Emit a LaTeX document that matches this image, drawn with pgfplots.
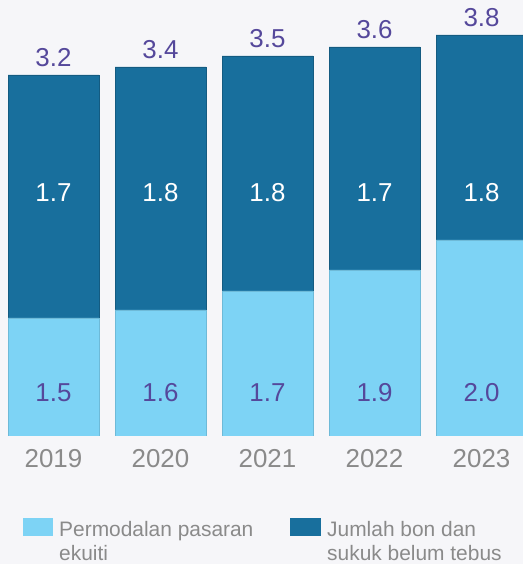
\documentclass[border=0pt]{standalone}
\usepackage{fontspec}
\setmainfont{Liberation Sans}
\usepackage{pgfplots}
\usepackage{pgfplotstable}
\pgfplotsset{compat=1.18}
\definecolor{lightb}{HTML}{7DD3F5}
\definecolor{darkb}{HTML}{186F9D}
\definecolor{purp}{HTML}{55489B}
\definecolor{yeargray}{HTML}{8A8A8A}
\definecolor{bg}{HTML}{F6F6F9}
\tikzset{lab/.style={anchor=center, inner sep=0pt, font=\fontsize{26}{30}\selectfont},
         toplab/.style={anchor=base, inner sep=0pt, text=purp, font=\fontsize{26}{30}\selectfont}}
% x = bar centre, eqh / bondh = drawn segment heights (chart is not to scale), eq/bond/total = printed values
\pgfplotstableread{
x     year eqh bondh eq  bond total
53.5  2019 118 243   1.5 1.7  3.2
160.5 2020 126 243   1.6 1.8  3.4
267.5 2021 145 235   1.7 1.8  3.5
374.5 2022 166 223   1.9 1.7  3.6
481.5 2023 196 205   2.0 1.8  3.8
}\data
\begin{document}
\begin{tikzpicture}
\path[use as bounding box, fill=bg] (0,-128bp) rectangle (523bp,436bp);
\begin{axis}[
  at={(0,0)}, anchor=south west,
  scale only axis, width=523bp, height=436bp,
  xmin=0, xmax=523, ymin=0, ymax=436,
  ybar stacked, bar width=91,
  axis line style={draw=none}, tick style={draw=none},
  ytick=\empty,
  xtick={53.5,160.5,267.5,374.5,481.5},
  xticklabels={2019,2020,2021,2022,2023},
  xticklabel style={font=\fontsize{26}{30}\selectfont, text=yeargray, anchor=base, inner sep=0pt, yshift=-31bp},
]
\addplot[fill=lightb, draw=lightb!88!black, line width=0.8bp] table[x=x,y=eqh]{\data};
\addplot[fill=darkb, draw=darkb!82!black, line width=0.8bp] table[x=x,y=bondh]{\data};
\end{axis}
\begin{axis}[
  at={(0,0)}, anchor=south west,
  scale only axis, width=523bp, height=436bp,
  xmin=0, xmax=523, ymin=0, ymax=436,
  hide axis,
]
\node[lab, text=purp] at (axis cs:53.5,43) {1.5};
\node[lab, text=purp] at (axis cs:160.5,43) {1.6};
\node[lab, text=purp] at (axis cs:267.5,43) {1.7};
\node[lab, text=purp] at (axis cs:374.5,43) {1.9};
\node[lab, text=purp] at (axis cs:481.5,43) {2.0};
\node[lab, text=white] at (axis cs:53.5,243) {1.7};
\node[lab, text=white] at (axis cs:160.5,243) {1.8};
\node[lab, text=white] at (axis cs:267.5,243) {1.8};
\node[lab, text=white] at (axis cs:374.5,243) {1.7};
\node[lab, text=white] at (axis cs:481.5,243) {1.8};
\node[toplab] at (axis cs:53.5,369) {3.2};
\node[toplab] at (axis cs:160.5,377) {3.4};
\node[toplab] at (axis cs:267.5,388) {3.5};
\node[toplab] at (axis cs:374.5,397) {3.6};
\node[toplab] at (axis cs:481.5,409) {3.8};
\end{axis}
% legend
\fill[lightb] (23bp,-82bp) rectangle (53bp,-100bp);
\node[anchor=base west, inner sep=0pt, align=left, text=yeargray, font=\fontsize{21}{24}\selectfont] at (59bp,-124bp) {Permodalan pasaran\\ekuiti};
\fill[darkb] (290bp,-82bp) rectangle (321bp,-100bp);
\node[anchor=base west, inner sep=0pt, align=left, text=yeargray, font=\fontsize{21}{24}\selectfont] at (327bp,-124bp) {Jumlah bon dan\\sukuk belum tebus};
\end{tikzpicture}
\end{document}
